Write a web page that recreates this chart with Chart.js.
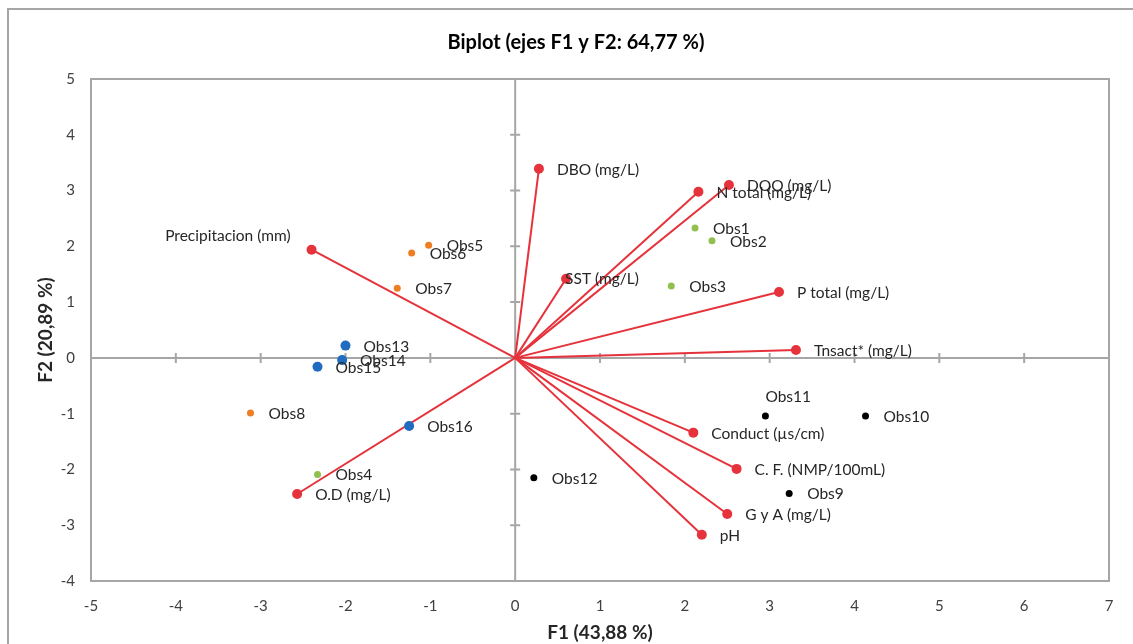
<!DOCTYPE html>
<html>
<head>
<meta charset="utf-8">
<script src="https://cdn.jsdelivr.net/npm/chart.js@4/dist/chart.umd.min.js"></script>
<style>
  html, body { margin: 0; padding: 0; background: #fff; overflow: hidden; width: 1133px; height: 644px; }
  #marco { position: absolute; left: 7px; top: 8px; width: 1160px; height: 660px;
           border-left: 2px solid #a6a6a6; border-top: 2px solid #a6a6a6; }
  #biplot { display: block; }
</style>
</head>
<body>
<div id="marco"><canvas id="biplot" width="1134" height="634"></canvas></div>
<script>
// variables (vectores rojos)
const variables = ['DBO (mg/L)', 'DQO (mg/L)', 'N total (mg/L)', 'SST (mg/L)', 'P total (mg/L)',
  'Tnsact* (mg/L)', 'Conduct (µs/cm)', 'C. F. (NMP/100mL)', 'G y A (mg/L)', 'pH', 'O.D (mg/L)',
  'Precipitacion (mm)'];
const varF1 = [0.28, 2.52, 2.16, 0.60, 3.11, 3.31, 2.10, 2.61, 2.50, 2.20, -2.57, -2.40];
const varF2 = [3.39, 3.10, 2.98, 1.42, 1.18, 0.14, -1.34, -1.99, -2.80, -3.17, -2.44, 1.94];

// observaciones por grupo
const obsVerde = ['Obs1', 'Obs2', 'Obs3', 'Obs4'];
const verdeF1 = [2.12, 2.32, 1.84, -2.33];
const verdeF2 = [2.33, 2.10, 1.29, -2.09];

const obsNaranja = ['Obs5', 'Obs6', 'Obs7', 'Obs8'];
const naranjaF1 = [-1.02, -1.22, -1.39, -3.12];
const naranjaF2 = [2.02, 1.88, 1.25, -0.99];

const obsNegro = ['Obs9', 'Obs10', 'Obs11', 'Obs12'];
const negroF1 = [3.23, 4.13, 2.95, 0.22];
const negroF2 = [-2.43, -1.04, -1.04, -2.15];

const obsAzul = ['Obs13', 'Obs14', 'Obs15', 'Obs16'];
const azulF1 = [-2.00, -2.04, -2.33, -1.25];
const azulF2 = [0.22, -0.04, -0.16, -1.22];

const xTicks = [-5, -4, -3, -2, -1, 0, 1, 2, 3, 4, 5, 6, 7];
const yTicks = [-4, -3, -2, -1, 0, 1, 2, 3, 4, 5];

// donde va cada etiqueta si no es a la derecha del punto
const colocacion = { 'Precipitacion (mm)': 'izquierda', 'Obs11': 'arriba', 'SST (mg/L)': 'encima' };

const ROJO = '#e5323b';
const FUENTE = 'Lato';

function puntos(xs, ys) {
  return xs.map((v, i) => ({ x: v, y: ys[i] }));
}

function grupo(nombres, xs, ys, color, radio) {
  return {
    data: puntos(xs, ys),
    etiquetas: nombres,
    backgroundColor: color,
    borderColor: color,
    pointRadius: radio,
    pointHoverRadius: radio,
    borderWidth: 0,
    showLine: false
  };
}

const datasets = [
  grupo(obsAzul, azulF1, azulF2, '#1f6cc0', 5),
  grupo(obsVerde, verdeF1, verdeF2, '#92c050', 3.5),
  grupo(obsNaranja, naranjaF1, naranjaF2, '#ef7d22', 3.5),
  grupo(obsNegro, negroF1, negroF2, '#000000', 3.5)
].concat(variables.map((v, i) => ({
  data: [{ x: 0, y: 0 }, { x: varF1[i], y: varF2[i] }],
  etiquetas: [null, v],
  showLine: true,
  borderColor: ROJO,
  backgroundColor: ROJO,
  borderWidth: 2,
  pointRadius: [0, 5],
  pointHoverRadius: [0, 5],
  pointBorderWidth: 0
})));

const ejesCero = {
  id: 'ejesCero',
  beforeDatasetsDraw(chart) {
    const { ctx, chartArea: a, scales: { x, y } } = chart;
    const x0 = x.getPixelForValue(0), y0 = y.getPixelForValue(0);
    ctx.save();
    ctx.strokeStyle = '#a6a6a6';
    ctx.lineWidth = 2;
    ctx.strokeRect(a.left, a.top, a.right - a.left, a.bottom - a.top);
    ctx.beginPath();
    ctx.moveTo(a.left, y0); ctx.lineTo(a.right, y0);
    ctx.moveTo(x0, a.top); ctx.lineTo(x0, a.bottom);
    x.ticks.forEach(t => {
      const px = x.getPixelForValue(t.value);
      ctx.moveTo(px, y0 - 5); ctx.lineTo(px, y0 + 5);
    });
    y.ticks.forEach(t => {
      const py = y.getPixelForValue(t.value);
      ctx.moveTo(x0 - 5, py); ctx.lineTo(x0 + 5, py);
    });
    ctx.stroke();
    ctx.restore();
  }
};

const etiquetas = {
  id: 'etiquetas',
  afterDatasetsDraw(chart) {
    const ctx = chart.ctx;
    ctx.save();
    ctx.font = '15.5px ' + FUENTE;
    ctx.fillStyle = '#262626';
    ctx.textBaseline = 'middle';
    chart.data.datasets.forEach((ds, di) => {
      const meta = chart.getDatasetMeta(di);
      meta.data.forEach((el, j) => {
        const txt = ds.etiquetas && ds.etiquetas[j];
        if (!txt) return;
        const modo = colocacion[txt];
        if (modo === 'izquierda') {
          ctx.textAlign = 'right';
          ctx.fillText(txt, el.x - 21, el.y - 14);
        } else if (modo === 'arriba') {
          ctx.textAlign = 'left';
          ctx.fillText(txt, el.x, el.y - 19);
        } else if (modo === 'encima') {
          ctx.textAlign = 'left';
          ctx.fillText(txt, el.x - 1, el.y);
        } else {
          ctx.textAlign = 'left';
          ctx.fillText(txt, el.x + 18, el.y + 1);
        }
      });
    });
    ctx.restore();
  }
};

Chart.defaults.font.family = FUENTE;

new Chart(document.getElementById('biplot'), {
  type: 'scatter',
  data: { datasets },
  options: {
    responsive: false,
    animation: false,
    devicePixelRatio: 1,
    layout: { padding: 0 },
    plugins: {
      legend: { display: false },
      tooltip: { enabled: false },
      title: {
        display: true,
        text: 'Biplot (ejes F1 y F2: 64,77 %)',
        color: '#000',
        font: { size: 20, weight: 'bold' },
        padding: { top: 21, bottom: 24 }
      }
    },
    scales: {
      x: {
        type: 'linear',
        min: xTicks[0],
        max: xTicks[xTicks.length - 1],
        afterBuildTicks: s => { s.ticks = xTicks.map(v => ({ value: v })); },
        afterFit: s => { s.height = 63; },
        grid: { display: false, drawTicks: false },
        border: { display: false },
        ticks: { color: '#404040', font: { size: 15 }, padding: 16 },
        title: {
          display: true,
          text: 'F1 (43,88 %)',
          color: '#262626',
          font: { size: 19, weight: 'bold' },
          padding: { top: 0, bottom: 0 }
        }
      },
      y: {
        type: 'linear',
        min: yTicks[0],
        max: yTicks[yTicks.length - 1],
        afterBuildTicks: s => { s.ticks = yTicks.map(v => ({ value: v })); },
        afterFit: s => { s.width = 82; },
        grid: { display: false, drawTicks: false },
        border: { display: false },
        ticks: { color: '#404040', font: { size: 15 }, padding: 16 },
        title: {
          display: true,
          text: 'F2 (20,89 %)',
          color: '#262626',
          font: { size: 19, weight: 'bold' },
          padding: { top: 25, bottom: 25 }
        }
      },
      // margen derecho: eje vacío para que el título quede centrado en todo el lienzo
      derecha: {
        type: 'linear',
        position: 'right',
        display: true,
        afterFit: s => { s.width = 34; },
        grid: { display: false, drawTicks: false },
        border: { display: false },
        ticks: { display: false }
      }
    }
  },
  plugins: [ejesCero, etiquetas]
});
</script>
</body>
</html>
